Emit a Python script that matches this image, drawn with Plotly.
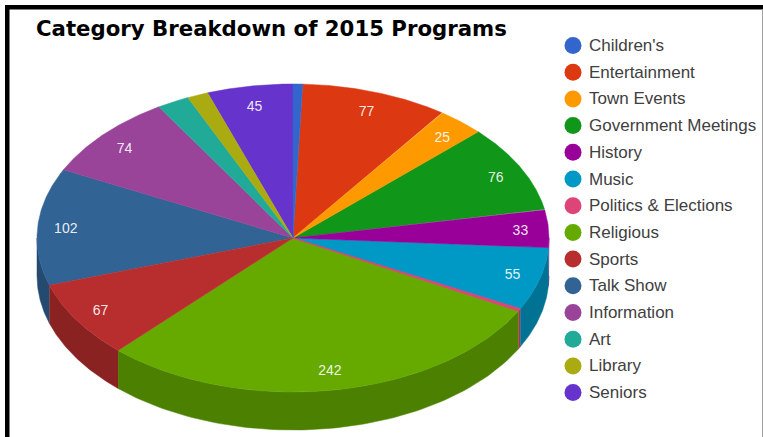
import numpy as np
import plotly.graph_objects as go

categories = ["Children's", "Entertainment", "Town Events", "Government Meetings", "History",
              "Music", "Politics & Elections", "Religious", "Sports", "Talk Show",
              "Information", "Art", "Library", "Seniors"]
values = [5, 77, 25, 76, 33, 55, 2, 242, 67, 102, 74, 17, 11, 45]
slice_labels = ["", "77", "25", "76", "33", "55", "", "242", "67", "102", "74", "", "", "45"]
colors = ["#3366cc", "#dc3912", "#ff9900", "#109618", "#990099", "#0099c6", "#dd4477",
          "#66aa00", "#b82e2e", "#316395", "#994499", "#22aa99", "#aaaa11", "#6633cc"]
side_colors = ["#264c99", "#a52b0e", "#bf7300", "#0c7012", "#730073", "#007394", "#a63359",
               "#4c8000", "#8a2222", "#254a70", "#733373", "#1a8073", "#80800d", "#4c2699"]

W, H = 763, 437
CX, CY, RX, RY, DEPTH = 293, 238, 256, 154, 38
LEG_X, LEG_TX, LEG_Y0, LEG_DY = 573, 589, 45.5, 26.7

fig = go.Figure()
total = sum(values)
edges = np.cumsum([0] + values) / total * 2 * np.pi


def px(a):
    return CX + RX * np.sin(a)


def py(a):
    return CY - RY * np.cos(a)


# side walls (front half of the rim only)
for i, c in enumerate(categories):
    a0 = max(edges[i], np.pi / 2)
    a1 = min(edges[i + 1], 3 * np.pi / 2)
    if a1 <= a0:
        continue
    t = np.linspace(a0, a1, 80)
    xs = np.r_[px(t), px(t[::-1])]
    ys = np.r_[py(t), py(t[::-1]) + DEPTH]
    fig.add_trace(go.Scatter(x=xs, y=ys, mode="lines", fill="toself", fillcolor=side_colors[i],
                             line=dict(width=0.5, color=side_colors[i]), showlegend=False,
                             hoverinfo="skip"))

# top face; the smallest slices go last so that neighbours do not cover them
for i in sorted(range(len(categories)), key=lambda k: -values[k]):
    t = np.linspace(edges[i], edges[i + 1], 120)
    xs = np.r_[CX, px(t), CX]
    ys = np.r_[CY, py(t), CY]
    fig.add_trace(go.Scatter(x=xs, y=ys, mode="lines", fill="toself", fillcolor=colors[i],
                             line=dict(width=1 if values[i] < 5 else 0.5, color=colors[i]),
                             name=categories[i], showlegend=False, hoverinfo="name"))

# value labels
mid = (edges[:-1] + edges[1:]) / 2
fig.add_trace(go.Scatter(x=CX + 0.89 * RX * np.sin(mid), y=CY + 1.5 - 0.87 * RY * np.cos(mid),
                         mode="text", text=slice_labels, showlegend=False, hoverinfo="skip",
                         textfont=dict(family="Liberation Sans", size=14, color="rgba(255,255,255,0.9)")))

# legend
leg_y = [LEG_Y0 + LEG_DY * i for i in range(len(categories))]
fig.add_trace(go.Scatter(x=[LEG_X] * len(categories), y=leg_y, mode="markers", showlegend=False,
                         hoverinfo="skip", marker=dict(size=17, color=colors, line=dict(width=0))))
annotations = [dict(x=LEG_TX, y=y, xref="x", yref="y", text=c, showarrow=False, xanchor="left",
                    yanchor="middle", xshift=-2,
                    font=dict(family="Liberation Sans", size=17, color="#404040"))
               for c, y in zip(categories, leg_y)]

shapes = [
    dict(type="rect", xref="x", yref="y", x0=5, x1=9.5, y0=5, y1=H, fillcolor="black", line_width=0),
    dict(type="rect", xref="x", yref="y", x0=5, x1=W, y0=5, y1=9.5, fillcolor="black", line_width=0),
    dict(type="line", xref="x", yref="y", x0=762.5, x1=762.5, y0=9, y1=H, line=dict(color="#a0a0a0", width=1)),
]

fig.update_layout(
    width=W, height=H, margin=dict(l=0, r=0, t=0, b=0), autosize=False,
    paper_bgcolor="white", plot_bgcolor="white", showlegend=False,
    title=dict(text="<b>Category Breakdown of 2015 Programs</b>", x=36 / W, xanchor="left",
               y=1 - 29 / H, yanchor="middle",
               font=dict(family="DejaVu Sans", size=21.25, color="black")),
    xaxis=dict(range=[0, W], visible=False, fixedrange=True),
    yaxis=dict(range=[H, 0], visible=False, fixedrange=True),
    annotations=annotations, shapes=shapes,
)
fig.write_html("out.html", config=dict(displayModeBar=False),
               post_script="document.body.style.margin='0';document.body.style.overflow='hidden';")
